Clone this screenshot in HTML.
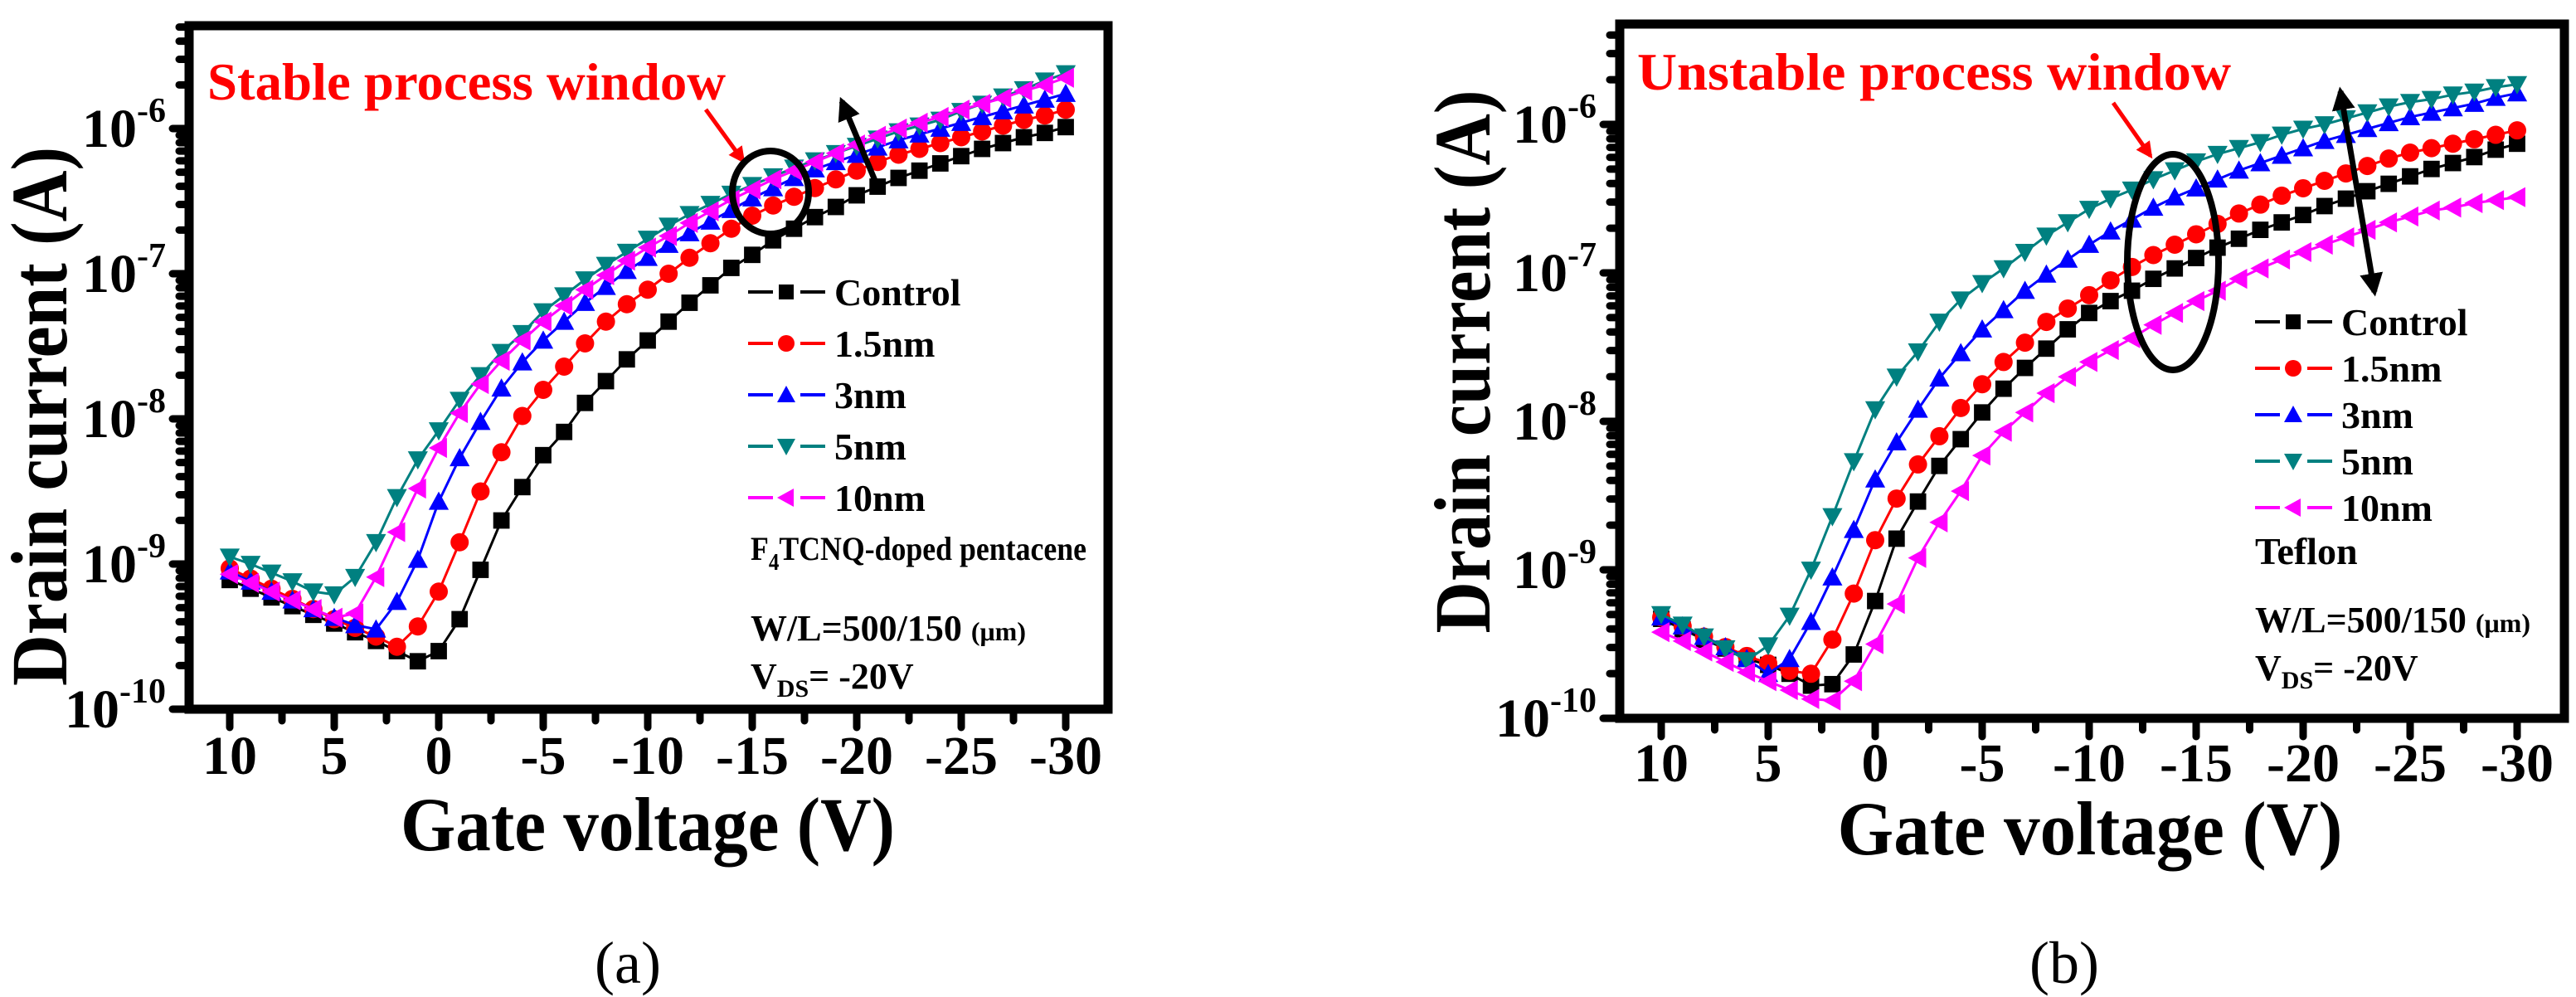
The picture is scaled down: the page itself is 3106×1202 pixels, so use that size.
<!DOCTYPE html>
<html><head><meta charset="utf-8">
<style>
html,body{margin:0;padding:0;background:#fff;}
svg{display:block;}
text{font-family:"Liberation Serif","DejaVu Serif",serif;}
</style></head>
<body>
<svg id="fig" width="3106" height="1202" viewBox="0 0 3106 1202" xmlns="http://www.w3.org/2000/svg"></svg>
<script>
// Gate voltage categories (V)
const voltages = [10,9,8,7,6,5,4,3,2,1,0,-1,-2,-3,-4,-5,-6,-7,-8,-9,-10,-11,-12,-13,-14,-15,-16,-17,-18,-19,-20,-21,-22,-23,-24,-25,-26,-27,-28,-29,-30];
const seriesNames = ["Control","1.5nm","3nm","5nm","10nm"];
// Panel (a) log10(Id) values
const aControl = [-9.11,-9.17,-9.23,-9.29,-9.35,-9.41,-9.47,-9.53,-9.60,-9.67,-9.60,-9.38,-9.04,-8.70,-8.47,-8.25,-8.09,-7.89,-7.74,-7.59,-7.46,-7.33,-7.20,-7.08,-6.96,-6.87,-6.77,-6.69,-6.61,-6.54,-6.46,-6.40,-6.34,-6.29,-6.24,-6.19,-6.14,-6.10,-6.06,-6.03,-5.99];
const a15nm = [-9.03,-9.10,-9.17,-9.24,-9.31,-9.38,-9.44,-9.50,-9.57,-9.43,-9.19,-8.85,-8.50,-8.23,-7.98,-7.80,-7.64,-7.48,-7.33,-7.21,-7.11,-7.00,-6.89,-6.79,-6.69,-6.60,-6.53,-6.47,-6.41,-6.35,-6.29,-6.23,-6.18,-6.14,-6.10,-6.06,-6.02,-5.98,-5.94,-5.91,-5.87];
const a3nm = [-9.05,-9.12,-9.19,-9.25,-9.31,-9.37,-9.42,-9.45,-9.26,-8.97,-8.57,-8.27,-8.02,-7.79,-7.61,-7.46,-7.33,-7.20,-7.09,-6.98,-6.89,-6.80,-6.72,-6.64,-6.56,-6.48,-6.41,-6.34,-6.28,-6.23,-6.18,-6.13,-6.08,-6.04,-6.00,-5.96,-5.92,-5.88,-5.84,-5.80,-5.76];
const a5nm = [-8.95,-9.00,-9.06,-9.12,-9.19,-9.21,-9.09,-8.85,-8.54,-8.28,-8.08,-7.87,-7.70,-7.54,-7.41,-7.26,-7.15,-7.04,-6.94,-6.85,-6.76,-6.67,-6.59,-6.52,-6.45,-6.39,-6.33,-6.27,-6.22,-6.17,-6.12,-6.07,-6.02,-5.98,-5.94,-5.88,-5.83,-5.78,-5.73,-5.67,-5.62];
const a10nm = [-9.07,-9.13,-9.19,-9.25,-9.31,-9.37,-9.34,-9.09,-8.78,-8.48,-8.20,-7.96,-7.76,-7.60,-7.46,-7.33,-7.22,-7.11,-7.01,-6.91,-6.82,-6.74,-6.65,-6.57,-6.49,-6.42,-6.35,-6.29,-6.23,-6.17,-6.11,-6.05,-6.00,-5.96,-5.92,-5.87,-5.83,-5.79,-5.74,-5.70,-5.65];
// Panel (b) log10(Id) values
const bControl = [-9.33,-9.40,-9.47,-9.53,-9.60,-9.64,-9.70,-9.78,-9.77,-9.57,-9.21,-8.79,-8.54,-8.30,-8.12,-7.94,-7.78,-7.64,-7.51,-7.38,-7.27,-7.19,-7.12,-7.04,-6.97,-6.90,-6.83,-6.77,-6.71,-6.66,-6.61,-6.55,-6.50,-6.45,-6.40,-6.35,-6.30,-6.26,-6.22,-6.17,-6.13];
const b15nm = [-9.32,-9.38,-9.45,-9.52,-9.58,-9.63,-9.68,-9.70,-9.47,-9.16,-8.80,-8.52,-8.29,-8.10,-7.91,-7.75,-7.60,-7.47,-7.33,-7.24,-7.15,-7.05,-6.96,-6.88,-6.81,-6.74,-6.67,-6.60,-6.54,-6.48,-6.43,-6.38,-6.33,-6.28,-6.23,-6.19,-6.16,-6.13,-6.10,-6.07,-6.04];
const b3nm = [-9.32,-9.38,-9.45,-9.52,-9.60,-9.70,-9.60,-9.35,-9.05,-8.73,-8.39,-8.14,-7.92,-7.71,-7.54,-7.38,-7.25,-7.12,-7.01,-6.91,-6.81,-6.72,-6.64,-6.56,-6.49,-6.43,-6.37,-6.31,-6.26,-6.21,-6.16,-6.11,-6.07,-6.03,-5.99,-5.95,-5.92,-5.89,-5.86,-5.82,-5.79];
const b5nm = [-9.30,-9.37,-9.45,-9.53,-9.61,-9.51,-9.31,-9.00,-8.64,-8.27,-7.92,-7.70,-7.53,-7.33,-7.18,-7.07,-6.97,-6.86,-6.75,-6.66,-6.57,-6.50,-6.44,-6.37,-6.31,-6.25,-6.20,-6.16,-6.12,-6.07,-6.03,-6.00,-5.96,-5.92,-5.88,-5.85,-5.83,-5.80,-5.78,-5.75,-5.73];
const b10nm = [-9.42,-9.48,-9.55,-9.62,-9.69,-9.75,-9.81,-9.87,-9.88,-9.75,-9.50,-9.23,-8.92,-8.68,-8.47,-8.23,-8.07,-7.94,-7.81,-7.70,-7.60,-7.52,-7.44,-7.35,-7.27,-7.19,-7.12,-7.04,-6.97,-6.91,-6.86,-6.81,-6.76,-6.71,-6.66,-6.62,-6.58,-6.56,-6.53,-6.51,-6.49];
const xTickLabels = ["10","5","0","-5","-10","-15","-20","-25","-30"];
const xTickValues = [10,5,0,-5,-10,-15,-20,-25,-30];
const yTickExps = [-10,-9,-8,-7,-6];

const NS = "http://www.w3.org/2000/svg";
const svg = document.getElementById('fig');
function el(tag, attrs, parent){
  const e = document.createElementNS(NS, tag);
  for (const k in attrs) e.setAttribute(k, attrs[k]);
  (parent||svg).appendChild(e);
  return e;
}
const colors = ["#000000","#ff0000","#0000ff","#008080","#ff00ff"];
const markers = ["square","circle","tri-up","tri-down","tri-left"];

function marker(g, type, cx, cy, s, c){
  let m;
  if (type==="square") m = el('rect',{x:cx-s*0.45,y:cy-s*0.45,width:s*0.9,height:s*0.9,fill:c},g);
  else if (type==="circle") m = el('circle',{cx:cx,cy:cy,r:s*0.5,fill:c},g);
  else if (type==="tri-up") m = el('polygon',{points:`${cx},${cy-s*0.55} ${cx-s*0.55},${cy+s*0.45} ${cx+s*0.55},${cy+s*0.45}`,fill:c},g);
  else if (type==="tri-down") m = el('polygon',{points:`${cx},${cy+s*0.55} ${cx-s*0.55},${cy-s*0.45} ${cx+s*0.55},${cy-s*0.45}`,fill:c},g);
  else m = el('polygon',{points:`${cx-s*0.55},${cy} ${cx+s*0.45},${cy-s*0.55} ${cx+s*0.45},${cy+s*0.55}`,fill:c},g);
  return m;
}

function panel(cfg){
  const P = el('g',{});
  
  
  const xScale = v => cfg.x10 + (10 - v) * cfg.pxPerV;
  const yScale = l => cfg.yM10 - (l + 10) * cfg.pxPerDec;
  const tk = el('g',{stroke:'#000','stroke-linecap':'round'},P);
  
  
  for (let v=10; v>=-30; v-=2.5){
    const x = xScale(v), major = (v%5===0);
    el('line',{x1:x,y1:cfg.bottom,x2:x,y2:cfg.bottom+(major?22:14),'stroke-width':9},tk);
  }
  for (let d=-10; d<=-6; d++){
    for (let k=1;k<10;k++){
      const l = d + Math.log10(k);
      const y = yScale(l);
      if (y < cfg.top) break;
      el('line',{x1:cfg.left,y1:y,x2:cfg.left-(k===1?20:12),y2:y,'stroke-width':9},tk);
    }
  }
  const fr = el('rect',{x:cfg.left,y:cfg.top,width:cfg.right-cfg.left,height:cfg.bottom-cfg.top,fill:'none',stroke:'#000','stroke-width':11},P);
  
  
  xTickLabels.forEach((lab,i)=>{
    const t = el('text',{x:xScale(xTickValues[i]),y:cfg.xLabY,'text-anchor':'middle','font-size':66,'font-weight':'bold'},P);
    t.textContent = lab;
    
    
  });
  yTickExps.forEach(e=>{
    const y = yScale(e);
    const t = el('text',{x:cfg.left-28,y:y+22,'text-anchor':'end','font-size':66,'font-weight':'bold'},P);
    
    
    const a = el('tspan',{},t); a.textContent = '10';
    const s = el('tspan',{dy:-30,'font-size':42},t); s.textContent = String(e);
  });
  cfg.series.forEach((vals,si)=>{
    const g = el('g',{},P);
    
    
    const pts = vals.map((l,i)=>xScale(voltages[i])+','+yScale(l)).join(' ');
    el('polyline',{points:pts,fill:'none',stroke:colors[si],'stroke-width':3},g);
    vals.forEach((l,i)=>{
      const m = marker(g, markers[si], xScale(voltages[i]), yScale(l), 22, colors[si]);
      
      
    });
  });
  const lg = el('g',{},P);
  
  
  seriesNames.forEach((n,i)=>{
    const y = cfg.legY[i];
    const e = el('g',{},lg);
    
    
    el('line',{x1:cfg.legX,y1:y,x2:cfg.legX+30,y2:y,stroke:colors[i],'stroke-width':4},e);
    el('line',{x1:cfg.legX+63,y1:y,x2:cfg.legX+93,y2:y,stroke:colors[i],'stroke-width':4},e);
    marker(e, markers[i], cfg.legX+46, y, 20, colors[i]);
    const t = el('text',{x:cfg.legX+104,y:y+16,'font-size':46,'font-weight':'bold'},e);
    t.textContent = n;
  });
  return {xScale, yScale, P};
}

const A = panel({id:'panel-a', left:228, right:1336, top:31, bottom:855, x10:277, pxPerV:25.2, yM10:855, pxPerDec:175,
  xLabY:933, legX:902, legY:[352,414,476,538,600], series:[aControl,a15nm,a3nm,a5nm,a10nm]});
const B = panel({id:'panel-b', left:1953, right:3092, top:29, bottom:866, x10:2003, pxPerV:25.8, yM10:866, pxPerDec:179,
  xLabY:942, legX:2719, legY:[388,444,500,556,612], series:[bControl,b15nm,b3nm,b5nm,b10nm]});
</script>
<svg style="position:absolute;left:0;top:0" width="3106" height="1202" viewBox="0 0 3106 1202" xmlns="http://www.w3.org/2000/svg">
  <defs>
    <marker id="ah" viewBox="0 0 10 10" refX="8" refY="5" markerWidth="4" markerHeight="4" orient="auto-start-reverse"><path d="M0,0 L10,5 L0,10 z" fill="#000"/></marker>
    <marker id="ahr" viewBox="0 0 10 10" refX="8" refY="5" markerWidth="4" markerHeight="4" orient="auto"><path d="M0,0 L10,5 L0,10 z" fill="#f00"/></marker>
  </defs>
  <text transform="translate(80,502) rotate(-90)" text-anchor="middle" font-size="96" font-weight="bold" textLength="650" lengthAdjust="spacingAndGlyphs">Drain current (A)</text>
  <text x="781" y="1025" text-anchor="middle" font-size="92" font-weight="bold" textLength="596" lengthAdjust="spacingAndGlyphs">Gate voltage (V)</text>
  <text x="757" y="1185" text-anchor="middle" font-size="72">(a)</text>
  <text x="250" y="120" font-size="64" font-weight="bold" fill="#ff0000" textLength="625" lengthAdjust="spacingAndGlyphs">Stable process window</text>
  <line x1="851" y1="132" x2="896" y2="194" stroke="#f00" stroke-width="5" marker-end="url(#ahr)"/>
  <ellipse cx="929" cy="232" rx="46" ry="50" fill="none" stroke="#000" stroke-width="8"/>
  <line x1="1061" y1="232" x2="1015" y2="122" stroke="#000" stroke-width="7" marker-end="url(#ah)"/>
  <text x="905" y="675" font-size="40" font-weight="bold" textLength="405" lengthAdjust="spacingAndGlyphs">F<tspan font-size="28" dy="12">4</tspan><tspan dy="-12">TCNQ-doped pentacene</tspan></text>
  <text x="905" y="772" font-size="44" font-weight="bold">W/L=500/150 <tspan font-size="32">(μm)</tspan></text>
  <text x="905" y="830" font-size="44" font-weight="bold">V<tspan font-size="30" dy="10">DS</tspan><tspan dy="-10">= -20V</tspan></text>
  <text transform="translate(1796,436) rotate(-90)" text-anchor="middle" font-size="96" font-weight="bold" textLength="655" lengthAdjust="spacingAndGlyphs">Drain current (A)</text>
  <text x="2520" y="1030" text-anchor="middle" font-size="92" font-weight="bold" textLength="609" lengthAdjust="spacingAndGlyphs">Gate voltage (V)</text>
  <text x="2489" y="1185" text-anchor="middle" font-size="72">(b)</text>
  <text x="1974" y="108" font-size="64" font-weight="bold" fill="#ff0000" textLength="716" lengthAdjust="spacingAndGlyphs">Unstable process window</text>
  <line x1="2548" y1="124" x2="2593" y2="188" stroke="#f00" stroke-width="5" marker-end="url(#ahr)"/>
  <ellipse cx="2620" cy="316" rx="55" ry="130" fill="none" stroke="#000" stroke-width="8"/>
  <line x1="2822" y1="110" x2="2863" y2="352" stroke="#000" stroke-width="7" marker-start="url(#ah)" marker-end="url(#ah)"/>
  <text x="2719" y="680" font-size="46" font-weight="bold">Teflon</text>
  <text x="2719" y="762" font-size="44" font-weight="bold">W/L=500/150 <tspan font-size="32">(μm)</tspan></text>
  <text x="2719" y="820" font-size="44" font-weight="bold">V<tspan font-size="30" dy="10">DS</tspan><tspan dy="-10">= -20V</tspan></text>
</svg>
</body></html>
